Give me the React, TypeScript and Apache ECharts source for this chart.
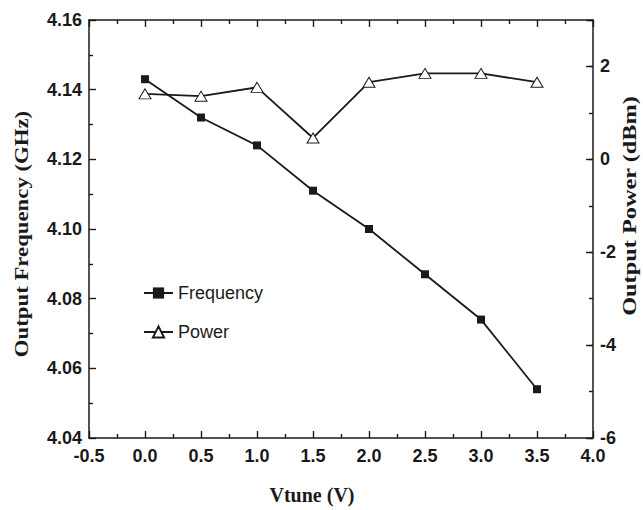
import React, { useEffect, useRef } from "react";
import * as echarts from "echarts";

const vtune = [0, 0.5, 1.0, 1.5, 2.0, 2.5, 3.0, 3.5];
const frequency = [4.143, 4.132, 4.124, 4.111, 4.1, 4.087, 4.074, 4.054];
const power = [1.41, 1.36, 1.55, 0.46, 1.66, 1.85, 1.85, 1.66];

const xLabel = "Vtune (V)";
const yLeftLabel = "Output Frequency (GHz)";
const yRightLabel = "Output Power (dBm)";
const seriesNames = ["Frequency", "Power"];

const INK = "#1a1a1a";
const SERIF = "Liberation Serif, Times New Roman, serif";
const tickFont = { fontFamily: "Liberation Sans, Arial, sans-serif", fontWeight: "bold" as const, fontSize: 18, color: INK };

export default function App() {
  const ref = useRef<HTMLDivElement>(null);
  useEffect(() => {
    document.body.style.margin = "0";
    if (!ref.current) return;
    const chart = echarts.init(ref.current, null, { renderer: "svg" });
    const axisLine = { show: true, onZero: false, lineStyle: { color: INK, width: 1.5 } };
    const axisTick = { show: true, inside: true, length: 7, lineStyle: { color: INK, width: 1.4 } };
    const minorTick = { show: true, splitNumber: 2, length: 4, lineStyle: { color: INK, width: 1.4 } };
    const titleStyle = (text: string) => ({
      text,
      fontFamily: SERIF,
      fontWeight: "bold",
      fontSize: 19,
      fill: INK,
      align: "center",
      verticalAlign: "middle",
    });
    chart.setOption({
      animation: false,
      backgroundColor: "#fff",
      grid: { left: 89, right: 50, top: 20, bottom: 72, outerBoundsMode: "none", containLabel: false },
      graphic: [
        {
          type: "text",
          x: 22,
          y: 234,
          rotation: Math.PI / 2,
          scaleX: 1.2,
          style: titleStyle(yLeftLabel),
        },
        {
          type: "text",
          x: 630,
          y: 206,
          rotation: Math.PI / 2,
          scaleX: 1.28,
          style: titleStyle(yRightLabel),
        },
      ],
      legend: {
        data: seriesNames,
        orient: "vertical",
        left: 138,
        top: 279,
        itemWidth: 29,
        itemHeight: 14,
        itemGap: 21,
        textStyle: { fontFamily: "Liberation Sans, Arial, sans-serif", fontSize: 18, color: INK },
      },
      xAxis: [
        {
          type: "value",
          position: "bottom",
          min: -0.5,
          max: 4.0,
          interval: 0.5,
          axisLine,
          axisTick,
          minorTick,
          splitLine: { show: false },
          axisLabel: { ...tickFont, margin: 9, formatter: (v: number) => v.toFixed(1) },
          name: xLabel,
          nameLocation: "middle",
          nameGap: 47,
          nameTextStyle: { fontFamily: SERIF, fontWeight: "bold", fontSize: 20, color: INK, padding: [0, 58, 0, 0] },
        },
        {
          type: "value",
          position: "top",
          min: -0.5,
          max: 4.0,
          interval: 0.5,
          axisLine,
          axisTick,
          minorTick,
          splitLine: { show: false },
          axisLabel: { show: false },
        },
      ],
      yAxis: [
        {
          type: "value",
          position: "left",
          min: 4.04,
          max: 4.16,
          interval: 0.02,
          axisLine,
          axisTick,
          minorTick,
          splitLine: { show: false },
          axisLabel: { ...tickFont, margin: 7, formatter: (v: number) => v.toFixed(2) },
        },
        {
          type: "value",
          position: "right",
          min: -6,
          max: 3,
          interval: 2,
          axisLine,
          axisTick,
          minorTick: { show: false },
          splitLine: { show: false },
          axisLabel: {
            ...tickFont,
            margin: 7,
            formatter: (v: number) => (Math.abs(v - 3) < 1e-9 ? "" : String(v)),
          },
        },
        {
          type: "value",
          position: "right",
          min: -6,
          max: 3,
          interval: 1,
          axisLine: { show: false, onZero: false },
          axisTick: { show: true, inside: true, length: 4, lineStyle: { color: INK, width: 1.4 } },
          splitLine: { show: false },
          axisLabel: { show: false },
        },
      ],
      series: [
        {
          name: seriesNames[0],
          type: "line",
          xAxisIndex: 0,
          yAxisIndex: 0,
          data: vtune.map((x, i) => [x, frequency[i]]),
          symbol: "rect",
          symbolSize: 8,
          lineStyle: { color: INK, width: 1.8 },
          itemStyle: { color: INK, borderColor: INK, borderWidth: 0 },
        },
        {
          name: seriesNames[1],
          type: "line",
          xAxisIndex: 0,
          yAxisIndex: 1,
          data: vtune.map((x, i) => [x, power[i]]),
          symbol: "triangle",
          symbolSize: [12, 10],
          lineStyle: { color: INK, width: 1.8 },
          itemStyle: { color: "#fff", borderColor: INK, borderWidth: 1 },
        },
      ],
    });
    return () => chart.dispose();
  }, []);
  return <div ref={ref} style={{ width: 643, height: 510 }} />;
}
